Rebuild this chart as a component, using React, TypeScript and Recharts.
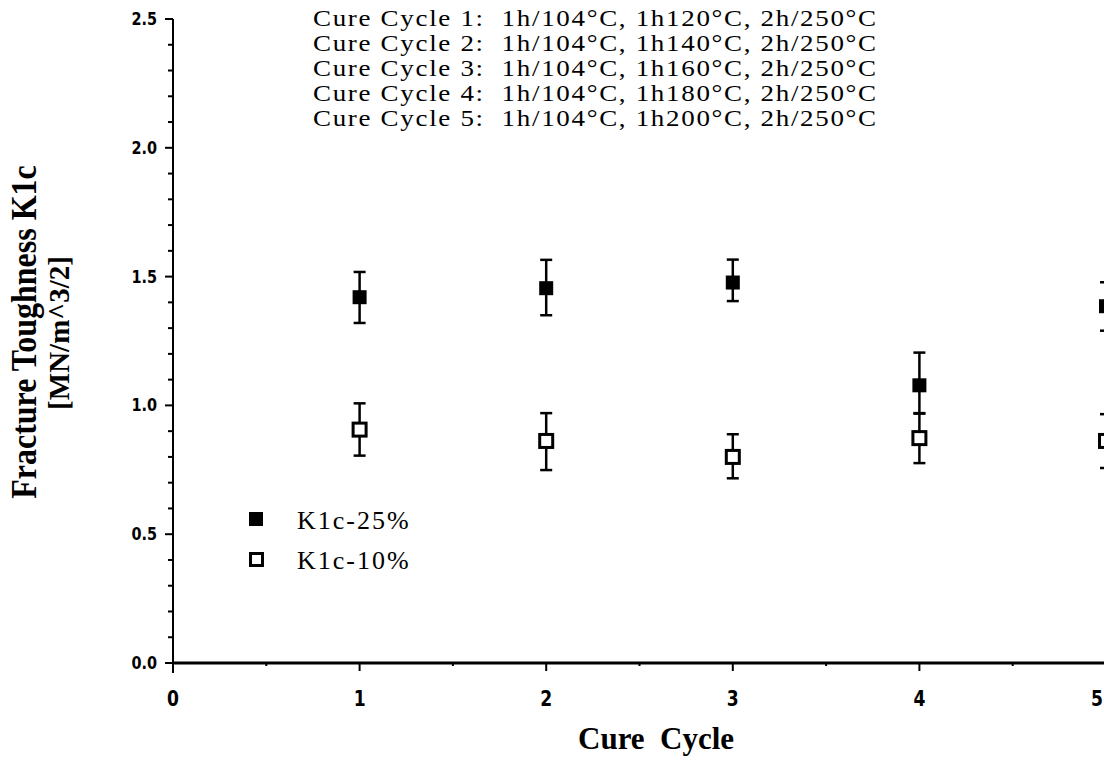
import { ScatterChart, Scatter, XAxis, YAxis, ErrorBar, Legend } from 'recharts';

// cure cycle number on the x axis
const CYCLES = [1, 2, 3, 4, 5];

// K1c-25% (filled squares): mean and error-bar ends
const K25_MEAN = [1.42, 1.455, 1.477, 1.078, 1.385];
const K25_LOW = [1.32, 1.35, 1.405, 0.968, 1.29];
const K25_HIGH = [1.518, 1.565, 1.566, 1.205, 1.478];

// K1c-10% (open squares)
const K10_MEAN = [0.906, 0.862, 0.8, 0.873, 0.862];
const K10_LOW = [0.805, 0.749, 0.717, 0.776, 0.757];
const K10_HIGH = [1.008, 0.97, 0.888, 0.97, 0.966];

const X_TICKS = [0, 0.5, 1, 1.5, 2, 2.5, 3, 3.5, 4, 4.5, 5];
const Y_TICKS = [
  0, 0.1, 0.2, 0.3, 0.4, 0.5, 0.6, 0.7, 0.8, 0.9, 1.0, 1.1, 1.2,
  1.3, 1.4, 1.5, 1.6, 1.7, 1.8, 1.9, 2.0, 2.1, 2.2, 2.3, 2.4, 2.5,
];
const Y_MAJOR = [0, 0.5, 1.0, 1.5, 2.0, 2.5];

const TITLE_LINES = [
  'Cure Cycle 1:  1h/104°C, 1h120°C, 2h/250°C',
  'Cure Cycle 2:  1h/104°C, 1h140°C, 2h/250°C',
  'Cure Cycle 3:  1h/104°C, 1h160°C, 2h/250°C',
  'Cure Cycle 4:  1h/104°C, 1h180°C, 2h/250°C',
  'Cure Cycle 5:  1h/104°C, 1h200°C, 2h/250°C',
];

const NAME_25 = 'K1c-25%';
const NAME_10 = 'K1c-10%';
const LEGEND_ORDER = [NAME_25, NAME_10];

const data25 = CYCLES.map((c, i) => ({
  x: c, y: K25_MEAN[i], err: [K25_MEAN[i] - K25_LOW[i], K25_HIGH[i] - K25_MEAN[i]],
}));
const data10 = CYCLES.map((c, i) => ({
  x: c, y: K10_MEAN[i], err: [K10_MEAN[i] - K10_LOW[i], K10_HIGH[i] - K10_MEAN[i]],
}));

const PAGE_W = 1104;
const SERIF = '"Liberation Serif", "Times New Roman", serif';
const TICK_FONT = '"DejaVu Sans", sans-serif';

function XTick({ x, y, payload }: any) {
  const v = payload.value;
  const major = Number.isInteger(v);
  const len = v === 0 ? 10 : major ? 8 : 3;
  // keep the last label inside the page
  const atEdge = x + 6 > PAGE_W;
  const tx = atEdge ? PAGE_W - 1 : x;
  return (
    <g>
      <line x1={x} y1={y} x2={x} y2={y + len} stroke="#000" strokeWidth={2} />
      {major && (
        <text transform={`translate(${tx},${y + 43}) scale(0.78,1)`} textAnchor={atEdge ? 'end' : 'middle'}
          fontFamily={TICK_FONT} fontWeight="bold" fontSize={22} fill="#000">
          {v}
        </text>
      )}
    </g>
  );
}

function YTick({ x, y, payload }: any) {
  const v = payload.value;
  const major = Y_MAJOR.some(m => Math.abs(m - v) < 1e-6);
  return (
    <g>
      <line x1={x} y1={y} x2={x - (major ? 8 : 5)} y2={y} stroke="#000" strokeWidth={2} />
      {major && (
        <text transform={`translate(${x - 16},${y + 6}) scale(0.85,1)`} textAnchor="end"
          fontFamily={TICK_FONT} fontWeight="bold" fontSize={17} fill="#000">
          {v.toFixed(1)}
        </text>
      )}
    </g>
  );
}

function FilledSquare({ cx, cy }: any) {
  return <rect x={cx - 7} y={cy - 7} width={14} height={14} fill="#000" />;
}

function OpenSquare({ cx, cy }: any) {
  return <rect x={cx - 6.5} y={cy - 6.5} width={13} height={13} fill="#fff" stroke="#000" strokeWidth={3} />;
}

function LegendBox({ payload }: any) {
  const items = [...(payload || [])].sort(
    (a: any, b: any) => LEGEND_ORDER.indexOf(a.value) - LEGEND_ORDER.indexOf(b.value),
  );
  return (
    <svg width={200} height={75} style={{ display: 'block' }}>
      {items.map((p: any, i: number) => {
        const filled = p.value === NAME_25;
        const top = 7 + i * 40;
        return (
          <g key={p.value}>
            {filled
              ? <rect x={4} y={top} width={14} height={14} fill="#000" />
              : <rect x={5.5} y={top + 1.5} width={12} height={12} fill="#fff" stroke="#000" strokeWidth={3} />}
            <text x={52} y={top + 17} fontFamily={SERIF} fontSize={26} letterSpacing={2} fill="#000">
              {p.value}
            </text>
          </g>
        );
      })}
    </svg>
  );
}

export default function App() {
  return (
    <div style={{ position: 'absolute', left: 0, top: 0, width: PAGE_W, height: 760, overflow: 'hidden', background: '#fff' }}>
      <ScatterChart width={1106} height={760} margin={{ top: 19, right: 0, left: 0, bottom: 0 }}>
        <XAxis
          type="number" dataKey="x" domain={[0, 5]} ticks={X_TICKS} interval={0}
          height={97} tickSize={0} tickMargin={0} tickLine={false}
          axisLine={{ stroke: '#000', strokeWidth: 3 }} tick={XTick}
        />
        <YAxis
          type="number" dataKey="y" domain={[0, 2.5]} ticks={Y_TICKS} interval={0}
          width={173} tickSize={0} tickMargin={0} tickLine={false}
          axisLine={{ stroke: '#000', strokeWidth: 2 }} tick={YTick}
        />
        <Legend
          layout="vertical" align="center" verticalAlign="middle"
          wrapperStyle={{ left: 245, top: 505, width: 200 }}
          content={LegendBox}
        />
        <Scatter name={NAME_25} data={data25} shape={FilledSquare} fill="#000" isAnimationActive={false}>
          <ErrorBar dataKey="err" direction="y" width={6} stroke="#000" strokeWidth={2.5} isAnimationActive={false} />
        </Scatter>
        <Scatter name={NAME_10} data={data10} shape={OpenSquare} fill="#fff" isAnimationActive={false}>
          <ErrorBar dataKey="err" direction="y" width={6} stroke="#000" strokeWidth={2.5} isAnimationActive={false} />
        </Scatter>
      </ScatterChart>

      {/* titles and axis labels */}
      <svg width={PAGE_W} height={760} style={{ position: 'absolute', left: 0, top: 0, pointerEvents: 'none' }}>
        <g transform="translate(313,0) scale(1.2,1)">
          {TITLE_LINES.map((t, i) => (
            <text key={i} x={0} y={26 + 25 * i} fontFamily={SERIF} fontSize={22.5} letterSpacing={1.4}
              fill="#000" style={{ whiteSpace: 'pre' }}>
              {t}
            </text>
          ))}
        </g>
        <text transform="translate(36,332) scale(1.1,1) rotate(-90)" textAnchor="middle"
          fontFamily={SERIF} fontWeight="bold" fontSize={32} fill="#000">
          Fracture Toughness K1c
        </text>
        <text transform="translate(69,333) rotate(-90)" textAnchor="middle"
          fontFamily={SERIF} fontWeight="bold" fontSize={29} fill="#000">
          [MN/m^3/2]
        </text>
        <text x={578} y={749} fontFamily={SERIF} fontWeight="bold" fontSize={31} fill="#000" style={{ whiteSpace: 'pre' }}>
          {'Cure  Cycle'}
        </text>
      </svg>
    </div>
  );
}
